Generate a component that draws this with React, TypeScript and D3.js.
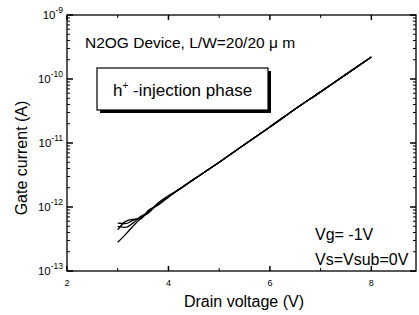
import React from "react";
import * as d3 from "d3";

const voltages = [3.0, 3.15, 3.3, 3.45, 3.6, 3.8, 4.0, 4.2, 4.5, 5.0, 5.5, 6.0, 6.5, 7.0, 7.5, 8.0];
const tail = [5.0e-12, 9.5e-12, 1.78e-11, 3.4e-11, 6.3e-11, 1.18e-10, 2.2e-10];
const curveA = [2.8e-13, 3.7e-13, 5.0e-13, 6.6e-13, 8.4e-13, 1.1e-12, 1.44e-12, 1.86e-12, 2.7e-12, ...tail];
const curveB = [5.6e-13, 5.5e-13, 6.2e-13, 6.9e-13, 8.0e-13, 1.14e-12, 1.47e-12, 1.88e-12, 2.72e-12, ...tail];
const curveC = [4.4e-13, 5.9e-13, 6.4e-13, 6.5e-13, 8.8e-13, 1.08e-12, 1.42e-12, 1.87e-12, 2.7e-12, ...tail];
const curveD = [5.0e-13, 4.8e-13, 5.6e-13, 7.1e-13, 8.2e-13, 1.16e-12, 1.5e-12, 1.86e-12, 2.71e-12, ...tail];
const curves = [curveA, curveB, curveC, curveD];

const xTicks = [2, 4, 6, 8];
const xMinor = [3, 5, 7];
const yExps = [-9, -10, -11, -12, -13];

const FONT = "'Liberation Sans', Arial, Helvetica, sans-serif";

export default function App() {
  const W = 419, H = 315;
  const L = 67, R = 416, T = 15, B = 271;
  const x = d3.scaleLinear().domain([2, 8.88]).range([L, R]);
  const y = d3.scaleLog().domain([1e-13, 1e-9]).range([B, T]);
  const line = d3
    .line<[number, number]>()
    .x((d) => x(d[0]))
    .y((d) => y(d[1]))
    .curve(d3.curveMonotoneX);

  const minorY: number[] = [];
  for (let e = -13; e < -9; e++) {
    for (let m = 2; m <= 9; m++) minorY.push(m * Math.pow(10, e));
  }

  return (
    <svg
      width={W}
      height={H}
      style={{ position: "absolute", left: 0, top: 0, background: "#fff" }}
      fontFamily={FONT}
    >
      <rect x={0} y={0} width={W} height={H} fill="#fff" />
      <rect x={L} y={T} width={R - L} height={B - T} fill="none" stroke="#000" strokeWidth={1.3} />
      {yExps.map((e) => {
        const yy = y(Math.pow(10, e));
        return (
          <g key={e}>
            <line x1={L} x2={L + 6} y1={yy} y2={yy} stroke="#000" strokeWidth={1.5} />
            <line x1={R} x2={R - 6} y1={yy} y2={yy} stroke="#000" strokeWidth={1.5} />
            <text x={63} y={yy + 4} textAnchor="end" fontSize={11.5} fill="#000">
              10
              <tspan fontSize={8.5} dy={-6}>
                {String(e)}
              </tspan>
            </text>
          </g>
        );
      })}
      {minorY.map((v, i) => (
        <g key={i}>
          <line x1={L} x2={L + 3} y1={y(v)} y2={y(v)} stroke="#000" strokeWidth={1} />
          <line x1={R} x2={R - 3} y1={y(v)} y2={y(v)} stroke="#000" strokeWidth={1} />
        </g>
      ))}
      {xTicks.map((t) => (
        <g key={t}>
          <line x1={x(t)} x2={x(t)} y1={B} y2={B - 5} stroke="#000" strokeWidth={1.5} />
          <line x1={x(t)} x2={x(t)} y1={T} y2={T + 5} stroke="#000" strokeWidth={1.5} />
          <text x={x(t)} y={286} textAnchor="middle" fontSize={9} fill="#000">
            {t}
          </text>
        </g>
      ))}
      {xMinor.map((t) => (
        <g key={t}>
          <line x1={x(t)} x2={x(t)} y1={B} y2={B - 3} stroke="#000" strokeWidth={1} />
          <line x1={x(t)} x2={x(t)} y1={T} y2={T + 3} stroke="#000" strokeWidth={1} />
        </g>
      ))}
      {curves.map((c, i) => (
        <path
          key={i}
          d={line(voltages.map((v, j) => [v, c[j]] as [number, number])) || ""}
          fill="none"
          stroke="#000"
          strokeWidth={1.3}
        />
      ))}
      <text x={85} y={48} fontSize={15.5} fill="#000">
        N2OG Device, L/W=20/20 μ m
      </text>
      <rect x={100} y={71} width={171} height={42} fill="#000" />
      <rect x={97} y={68} width={171} height={42} fill="#fff" stroke="#000" strokeWidth={1.2} />
      <text x={113} y={96} fontSize={17} fill="#000">
        h<tspan fontSize={10} dy={-7}>+</tspan>
        <tspan dy={7}> -injection phase</tspan>
      </text>
      <text x={315} y={240} fontSize={16} fill="#000">
        Vg= -1V
      </text>
      <text x={315} y={265} fontSize={16} fill="#000">
        Vs=Vsub=0V
      </text>
      <text x={244} y={307} textAnchor="middle" fontSize={16} fill="#000">
        Drain voltage (V)
      </text>
      <text
        transform={`translate(27, 158) rotate(-90)`}
        textAnchor="middle"
        fontSize={16}
        fill="#000"
      >
        Gate current (A)
      </text>
    </svg>
  );
}
